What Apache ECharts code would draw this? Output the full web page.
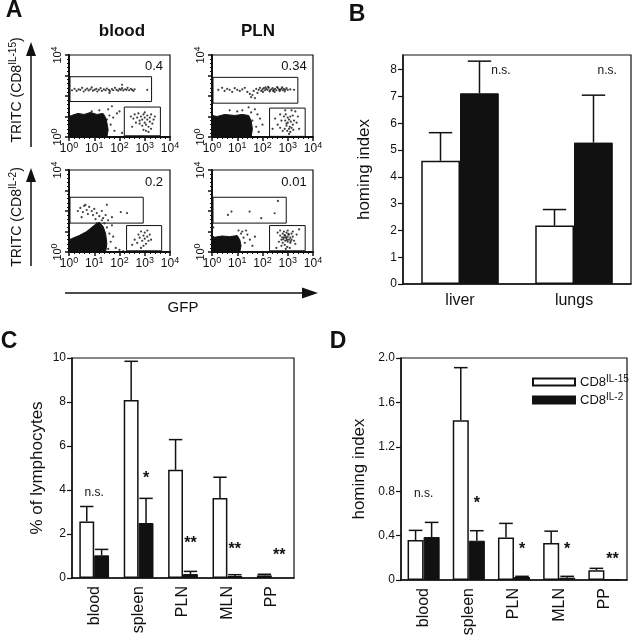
<!DOCTYPE html>
<html><head><meta charset="utf-8">
<script src="https://cdn.jsdelivr.net/npm/echarts@6/dist/echarts.min.js"></script>
<style>html,body{margin:0;padding:0;background:#fff}#c{width:632px;height:639px}</style>
</head><body><div id="c"></div>
<script>
// ================= DATA =================
// Panel A (flow cytometry, values in log10 decades)
const A_COLUMNS = ['blood', 'PLN'];
const A_ROWS = ['IL-15', 'IL-2'];
const A_PERCENT = ['0.4', '0.34', '0.2', '0.01'];
const A_DECADES = [0, 1, 2, 3, 4];
const A_GATE_UPPER = [[0.04,1.73,3.27,2.94],[0.04,1.65,3.4,2.91],[0.04,1.41,2.94,2.67],[0.04,1.41,2.94,2.67]];
const A_GATE_LOWER = [[2.19,0.06,3.62,1.46],[2.28,0.03,3.69,1.41],[2.28,0.06,3.67,1.29],[2.28,0.06,3.69,1.29]];
const A_BLOB_TL = [[0,0],[1.5,0],[1.55,0.35],[1.5,0.7],[1.45,0.95],[1.35,1.15],[1.1,1.1],[0.85,1.2],[0.6,1.1],[0.35,1.15],[0.1,1.05],[0,1.0]];
const A_BLOB_TR = [[0,0],[1.55,0],[1.6,0.4],[1.55,0.8],[1.45,1.05],[1.2,1.1],[0.9,1.05],[0.5,1.1],[0.2,1.0],[0,1.05]];
const A_BLOB_BL = [[0,0],[1.45,0],[1.5,0.4],[1.45,0.9],[1.35,1.25],[1.2,1.45],[1.0,1.3],[0.7,1.0],[0.4,0.8],[0.1,0.65],[0,0.6]];
const A_BLOB_BR = [[0,0],[1.1,0],[1.15,0.3],[1.1,0.6],[1.0,0.8],[0.7,0.75],[0.4,0.78],[0.1,0.72],[0,0.8]];
const A_DOTS_TL = [[0.12,2.28],[0.22,2.35],[0.3,2.25],[0.38,2.32],[0.45,2.3],[0.52,2.4],[0.58,2.22],[0.65,2.3],[0.72,2.36],[0.78,2.27],[0.85,2.33],[0.9,2.42],[0.95,2.26],[1.02,2.3],[1.08,2.35],[1.12,2.22],[1.18,2.3],[1.25,2.38],[1.3,2.25],[1.38,2.32],[1.45,2.28],[1.5,2.36],[1.58,2.3],[1.62,2.24],[1.7,2.34],[1.75,2.28],[1.82,2.4],[1.88,2.3],[1.95,2.26],[2.0,2.35],[2.05,2.3],[2.1,2.38],[2.15,2.27],[2.22,2.33],[2.28,2.3],[2.32,2.4],[2.38,2.28],[2.45,2.35],[2.5,2.3],[2.55,2.25],[2.6,2.33],[2.1,2.55],[1.6,2.15],[3.1,2.3],
 [1.6,1.05],[1.75,0.95],[1.9,1.15],[2.0,1.25],[1.55,1.35],[1.2,1.3],[0.9,1.25],[1.65,0.6],[1.8,0.3],[1.5,0.85],[2.1,0.2],[1.7,1.5],
 [2.45,1.0],[2.55,0.9],[2.6,1.1],[2.7,0.95],[2.75,1.15],[2.8,0.8],[2.85,1.0],[2.9,0.85],[2.95,1.1],[3.0,0.7],[3.0,0.95],[3.05,0.6],[3.1,0.85],[3.1,1.05],[3.15,0.5],[3.2,0.75],[3.2,0.95],[3.25,0.4],[3.3,0.65],[3.35,0.85],[2.9,0.55],[2.95,0.35],[3.05,0.3],[3.15,0.25],[2.8,0.65],[3.4,1.0],[2.65,0.7],[3.0,1.2],[2.5,0.5],[3.25,1.1]];
const A_DOTS_TR = [[0.25,2.3],[0.4,2.4],[0.5,2.25],[0.6,2.35],[0.7,2.3],[0.8,2.2],[0.9,2.38],[1.0,2.3],[1.1,2.25],[1.2,2.32],[1.3,2.4],[1.4,2.2],[1.5,2.1],[1.55,1.95],[1.6,2.05],[1.7,1.9],[1.65,2.25],[1.75,2.35],[1.8,2.15],[1.85,2.3],[1.9,2.4],[1.95,2.25],[2.0,2.32],[2.05,2.38],[2.1,2.28],[2.15,2.35],[2.2,2.3],[2.25,2.4],[2.3,2.27],[2.35,2.33],[2.4,2.38],[2.45,2.3],[2.5,2.35],[2.55,2.28],[2.6,2.4],[2.65,2.32],[2.7,2.3],[2.75,2.36],[2.8,2.28],[2.85,2.34],[2.9,2.3],[2.95,2.38],[3.0,2.3],[3.1,2.32],[3.25,2.3],
 [2.12,2.42],[2.28,2.22],[2.42,2.25],[2.58,2.44],[2.68,2.24],[2.78,2.42],[2.88,2.22],[2.02,2.2],[2.22,2.45],[2.48,2.2],
 [1.55,1.2],[1.7,1.35],[1.8,1.1],[1.6,0.8],[1.75,0.5],[1.9,0.9],[1.45,1.45],[1.2,1.3],[1.0,1.25],[0.7,1.3],[1.85,0.25],[2.0,0.6],
 [2.5,0.9],[2.6,0.6],[2.7,1.1],[2.75,0.8],[2.8,0.3],[3.35,0.7],[3.4,1.0],[3.3,1.25],[2.9,1.3],[3.05,0.15],[2.4,0.4],[3.45,0.4],[2.7,0.45],[3.15,1.3],
 [2.88,0.4],[2.95,0.55],[3.0,0.7],[3.05,0.85],[3.1,1.0],[2.92,1.1],[3.2,0.6],[3.15,0.45],[3.25,0.8],[2.98,0.3],[3.08,0.5],[2.9,0.8],[3.0,0.95],[3.12,0.75],[3.2,1.05],[2.95,0.65],[3.05,0.4],[2.85,1.0],[3.22,0.35],[3.1,0.25]];
const A_DOTS_BL = [[0.35,2.0],[0.45,2.15],[0.55,1.95],[0.6,2.25],[0.7,2.05],[0.75,1.85],[0.8,2.2],[0.9,2.0],[0.95,1.8],[1.0,2.1],[1.1,1.9],[1.2,1.75],[1.3,2.0],[1.35,1.65],[1.45,1.8],[1.5,2.3],[1.55,1.55],[1.7,1.7],[2.3,1.9],[0.5,1.7],[0.65,2.3],[1.05,1.6],[2.05,1.95],
 [1.5,1.2],[1.6,0.9],[1.65,0.5],[1.7,1.3],[1.3,1.55],[1.55,0.15],[1.85,0.2],[2.0,0.1],[1.4,1.4],[1.75,0.75],[2.15,0.05],[1.1,1.4],
 [2.6,0.6],[2.7,0.45],[2.75,0.85],[2.8,0.7],[2.85,1.0],[2.9,0.55],[2.95,0.8],[3.0,0.65],[3.0,0.95],[3.05,0.4],[3.1,0.75],[3.1,1.05],[3.15,0.55],[3.2,0.85],[2.5,0.35],[3.25,0.6],[2.95,0.3],[2.85,0.2]];
const A_DOTS_BR = [[0.63,1.81],[0.77,1.97],[1.49,1.97],[1.95,1.65],[2.48,1.89],[2.61,2.49],
 [1.15,0.9],[1.25,0.7],[1.3,0.45],[1.4,0.85],[1.5,0.6],[1.6,0.3],[1.2,1.0],[1.05,1.05],[1.35,1.05],[0.05,1.2],[1.7,0.75],
 [2.65,0.5],[2.7,0.8],[2.75,0.6],[2.8,0.9],[2.8,0.45],[2.85,0.7],[2.85,1.0],[2.9,0.55],[2.9,0.8],[2.95,0.65],[2.95,0.95],[3.0,0.5],[3.0,0.75],[3.0,1.05],[3.05,0.6],[3.05,0.85],[3.1,0.7],[3.1,0.45],[3.15,0.9],[3.15,0.6],[3.2,0.75],[3.25,0.55],[2.88,0.35],[2.98,0.25],[3.08,0.2],[2.92,0.15],[2.75,0.3],[3.35,0.85],[2.6,0.95],[2.7,1.05],[3.2,1.0],[2.82,0.62],[2.93,0.72],[3.02,0.88],[2.87,0.82],[2.97,0.58],[3.12,0.52],[2.78,0.72],[3.3,0.4],[2.55,0.2],[3.45,1.1]];

// Panel B
const B_CATS = ['liver', 'lungs'];
const B_IL15 = [4.6, 2.18];
const B_IL15_ERR = [5.65, 2.78];
const B_IL2 = [7.12, 5.28];
const B_IL2_ERR = [8.32, 7.05];
const B_TICKS = [0, 1, 2, 3, 4, 5, 6, 7, 8];
const B_MARK_TEXT = ['n.s.', 'n.s.'];
const B_MARK_Y = [7.96, 7.96];

// Panels C and D
const ORGANS = ['blood', 'spleen', 'PLN', 'MLN', 'PP'];
const C_IL15 = [2.57, 8.09, 4.92, 3.64, 0.12];
const C_IL15_ERR = [3.25, 9.85, 6.29, 4.58, 0.17];
const C_IL2 = [1.03, 2.5, 0.18, 0.09, null];
const C_IL2_ERR = [1.3, 3.62, 0.3, 0.15, null];
const C_TICKS = [0, 2, 4, 6, 8, 10];
const C_MARK_TEXT = ['n.s.', '*', '**', '**', '**'];
const C_MARK_Y = [3.9, 4.5, 1.56, 1.29, 1.01];
const C_MARK_SLOT = [0, 1, 1, 1, 1];

const D_IL15 = [0.36, 1.44, 0.384, 0.333, 0.087];
const D_IL15_ERR = [0.447, 1.913, 0.51, 0.44, 0.105];
const D_IL2 = [0.387, 0.354, 0.027, 0.021, 0.006];
const D_IL2_ERR = [0.519, 0.444, 0.033, 0.033, null];
const D_TICKS = [0, 0.4, 0.8, 1.2, 1.6, 2.0];
const D_MARK_TEXT = ['n.s.', '*', '*', '*', '**'];
const D_MARK_Y = [0.78, 0.69, 0.27, 0.27, 0.18];
const D_MARK_SLOT = [0, 1, 1, 1, 1];

const SERIES_NAMES = ['CD8IL-15', 'CD8IL-2'];

// ================= RENDER =================
const INK = '#111';
const FONT = '"Liberation Sans", Arial, Helvetica, sans-serif';
const chart = echarts.init(document.getElementById('c'), null, {renderer: 'canvas'});

const grids = [
  {left: 69, top: 55, width: 101, height: 82},
  {left: 212, top: 55, width: 101, height: 82},
  {left: 69, top: 170, width: 101, height: 82},
  {left: 212, top: 170, width: 101, height: 82},
  {left: 403, top: 55, width: 228, height: 229},
  {left: 72, top: 358, width: 222, height: 220},
  {left: 401, top: 358, width: 226, height: 222}
].map(g => Object.assign({show: true, borderColor: INK, borderWidth: 1.2, backgroundColor: 'transparent'}, g));

const supRich = {s: {fontSize: 9, fontFamily: FONT, color: INK, padding: [0, 0, 7, 0]}};

const xAxes = [], yAxes = [], series = [];

// ----- Panel A -----
for (let i = 0; i < 4; i++) {
  xAxes.push({gridIndex: i, type: 'value', min: 0, max: 4, interval: 1,
    axisLine: {show: true, onZero: false, lineStyle: {color: INK, width: 2}},
    axisTick: {show: true, length: 4, lineStyle: {color: INK, width: 1.5}},
    minorTick: {show: true, splitNumber: 5, length: 2, lineStyle: {color: INK, width: 1}},
    splitLine: {show: false},
    axisLabel: {color: INK, fontFamily: FONT, fontSize: 12, margin: 4,
      formatter: v => '10{s|' + v + '}', rich: supRich}});
  yAxes.push({gridIndex: i, type: 'value', min: 0, max: 4, interval: 1,
    axisLine: {show: true, onZero: false, lineStyle: {color: INK, width: 2}},
    axisTick: {show: true, length: 4, lineStyle: {color: INK, width: 1.5}},
    minorTick: {show: true, splitNumber: 5, length: 2, lineStyle: {color: INK, width: 1}},
    splitLine: {show: false},
    axisLabel: {color: INK, fontFamily: FONT, fontSize: 11, margin: 3, rotate: 90,
      formatter: v => (v === A_DECADES[0] || v === A_DECADES[4]) ? '10{s|' + v + '}' : '', rich: supRich}});
}
const blobs = [A_BLOB_TL, A_BLOB_TR, A_BLOB_BL, A_BLOB_BR];
const dots = [A_DOTS_TL, A_DOTS_TR, A_DOTS_BL, A_DOTS_BR];
for (let i = 0; i < 4; i++) {
  const poly = blobs[i];
  series.push({type: 'custom', xAxisIndex: i, yAxisIndex: i, data: poly, encode: {x: 0, y: 1}, silent: true, z: 3,
    renderItem: (params, api) => {
      if (params.dataIndex !== 0) return null;
      return {type: 'polygon', shape: {points: poly.map(p => api.coord(p))}, style: {fill: INK, stroke: INK, lineWidth: 1}};
    }});
  series.push({type: 'scatter', xAxisIndex: i, yAxisIndex: i, data: dots[i], symbolSize: 2.2, silent: true, z: 3,
    itemStyle: {color: INK}});
  series.push({type: 'custom', xAxisIndex: i, yAxisIndex: i, data: [A_GATE_UPPER[i], A_GATE_LOWER[i]],
    encode: {x: [0, 2], y: [1, 3]}, silent: true, z: 4,
    renderItem: (params, api) => {
      const p0 = api.coord([api.value(0), api.value(3)]);
      const p1 = api.coord([api.value(2), api.value(1)]);
      return {type: 'rect', shape: {x: p0[0], y: p0[1], width: p1[0] - p0[0], height: p1[1] - p0[1]},
        style: {fill: 'none', stroke: INK, lineWidth: 1}};
    }});
}

// ----- Bar panels -----
function barPanel(gi, cats, ticks, max, il15, il15e, il2, il2e, gap, capFrac, yName, nameGap, labelOpt, marks) {
  xAxes.push(Object.assign({gridIndex: gi, type: 'category', data: cats,
    axisLine: {show: true, lineStyle: {color: INK, width: 1.5}},
    axisTick: {show: false}, splitLine: {show: false}}, {axisLabel: labelOpt}));
  yAxes.push({gridIndex: gi, type: 'value', min: 0, max: max,
    axisLine: {show: true, lineStyle: {color: INK, width: 1.5}},
    axisTick: {show: true, length: 5, customValues: ticks, lineStyle: {color: INK, width: 1.2}},
    splitLine: {show: false},
    axisLabel: {customValues: ticks, color: INK, fontFamily: FONT, fontSize: 12, margin: 6,
      formatter: v => (max < 3 ? (v === 0 ? '0' : v.toFixed(1)) : String(v))},
    name: yName, nameLocation: 'middle', nameGap: nameGap, nameRotate: 90,
    nameTextStyle: {color: INK, fontFamily: FONT, fontSize: 17}});
  const ax = xAxes.length - 1;
  const barGapStr = Math.round(gap * 100) + '%';
  series.push({type: 'bar', name: SERIES_NAMES[0], xAxisIndex: ax, yAxisIndex: ax, data: il15,
    barGap: '0%', barCategoryGap: barGapStr, z: 2,
    itemStyle: {color: '#fff', borderColor: INK, borderWidth: 1.5}});
  series.push({type: 'bar', name: SERIES_NAMES[1], xAxisIndex: ax, yAxisIndex: ax, data: il2,
    barGap: '0%', barCategoryGap: barGapStr, z: 2,
    itemStyle: {color: INK, borderColor: INK, borderWidth: 1}});
  const errData = [];
  cats.forEach((c, k) => {
    if (il15e[k] != null) errData.push([k, il15[k], il15e[k], -1]);
    if (il2e[k] != null) errData.push([k, il2[k], il2e[k], 1]);
  });
  series.push({type: 'custom', xAxisIndex: ax, yAxisIndex: ax, data: errData, encode: {x: 0, y: [1, 2]}, z: 5, silent: true,
    renderItem: (params, api) => {
      const k = api.value(0), v = api.value(1), e = api.value(2), side = api.value(3);
      const band = api.size([1, 0])[0];
      const bw = band * (1 - gap) / 2;
      const cx = api.coord([k, 0])[0] + side * bw / 2;
      const yv = api.coord([k, v])[1], ye = api.coord([k, e])[1];
      const cap = bw * capFrac / 2;
      return {type: 'group', children: [
        {type: 'line', shape: {x1: cx, y1: yv, x2: cx, y2: ye}, style: {stroke: INK, lineWidth: 1.5}},
        {type: 'line', shape: {x1: cx - cap, y1: ye, x2: cx + cap, y2: ye}, style: {stroke: INK, lineWidth: 1.5}}
      ]};
    }});
  // annotations
  series.push({type: 'custom', xAxisIndex: ax, yAxisIndex: ax, data: marks.y.map((y, k) => [k, y, marks.slot[k]]),
    encode: {x: 0, y: 1}, z: 6, silent: true,
    renderItem: (params, api) => {
      const k = api.value(0), y = api.value(1), slot = api.value(2);
      const band = api.size([1, 0])[0];
      const bw = band * (1 - gap) / 2;
      const p = api.coord([k, y]);
      const txt = marks.text[params.dataIndex];
      const star = txt.indexOf('*') >= 0;
      return {type: 'text', x: p[0] + slot * bw / 2, y: p[1],
        style: {text: txt, textAlign: 'center', textVerticalAlign: 'middle', fill: INK,
          font: (star ? 'bold 16px ' : '12px ') + FONT}};
    }});
}

const catLabelRot = {color: INK, fontFamily: FONT, fontSize: 16, rotate: 90, margin: 8, interval: 0};
barPanel(4, B_CATS, B_TICKS, 8.55, B_IL15, B_IL15_ERR, B_IL2, B_IL2_ERR, 0.316, 0.6,
  'homing index', 30, {color: INK, fontFamily: FONT, fontSize: 16, margin: 9},
  {text: B_MARK_TEXT, y: B_MARK_Y, slot: [2.1, 1.7]});
barPanel(5, ORGANS, C_TICKS, 10, C_IL15, C_IL15_ERR, C_IL2, C_IL2_ERR, 0.33, 0.9,
  '% of lymphocytes', 26, catLabelRot, {text: C_MARK_TEXT, y: C_MARK_Y, slot: C_MARK_SLOT});
barPanel(6, ORGANS, D_TICKS, 2.0, D_IL15, D_IL15_ERR, D_IL2, D_IL2_ERR, 0.29, 0.85,
  'homing index', 33, catLabelRot, {text: D_MARK_TEXT, y: D_MARK_Y, slot: D_MARK_SLOT});

// ----- Decorations -----
const graphic = [];
function txt(x, y, text, font, extra) {
  graphic.push(Object.assign({type: 'text', x: x, y: y, silent: true,
    style: Object.assign({text: text, font: font, fill: INK, textAlign: 'center', textVerticalAlign: 'middle'}, extra || {})}));
}
txt(14, 11, 'A', 'bold 23px ' + FONT);
txt(357, 15, 'B', 'bold 23px ' + FONT);
txt(9, 342, 'C', 'bold 23px ' + FONT);
txt(338, 342, 'D', 'bold 23px ' + FONT);
txt(122, 31, A_COLUMNS[0], 'bold 17px ' + FONT);
txt(258, 31, A_COLUMNS[1], 'bold 17px ' + FONT);
txt(154, 66, A_PERCENT[0], '13px ' + FONT);
txt(294, 66, A_PERCENT[1], '13px ' + FONT);
txt(154, 182, A_PERCENT[2], '13px ' + FONT);
txt(294, 182, A_PERCENT[3], '13px ' + FONT);
txt(183, 308, 'GFP', '15px ' + FONT);
// rotated TRITC labels
[[17, 90, A_ROWS[0]], [17, 217, A_ROWS[1]]].forEach(r => {
  graphic.push({type: 'text', x: r[0], y: r[1], rotation: Math.PI / 2, silent: true,
    style: {text: 'TRITC (CD8{s|' + r[2] + '})', font: '14px ' + FONT, fill: INK, textAlign: 'center', textVerticalAlign: 'middle',
      rich: {s: {fontSize: 10, fontFamily: FONT, fill: INK, padding: [0, 0, 7, 0]}}}});
});
// arrows
function vArrow(x, yTip, yBase) {
  graphic.push({type: 'line', silent: true, shape: {x1: x, y1: yBase, x2: x, y2: yTip + 10}, style: {stroke: INK, lineWidth: 1.5}});
  graphic.push({type: 'polygon', silent: true, shape: {points: [[x, yTip], [x - 5, yTip + 14], [x + 5, yTip + 14]]}, style: {fill: INK}});
}
vArrow(31, 42, 147);
vArrow(31, 168, 266);
graphic.push({type: 'line', silent: true, shape: {x1: 65, y1: 293, x2: 307, y2: 293}, style: {stroke: INK, lineWidth: 1.5}});
graphic.push({type: 'polygon', silent: true, shape: {points: [[318, 293], [302, 287.5], [302, 298.5]]}, style: {fill: INK}});

chart.setOption({
  animation: false,
  backgroundColor: '#fff',
  textStyle: {fontFamily: FONT, color: INK},
  grid: grids,
  xAxis: xAxes,
  yAxis: yAxes,
  series: series,
  graphic: graphic,
  legend: {data: SERIES_NAMES, orient: 'vertical', left: 532, top: 374, itemWidth: 42, itemHeight: 7, itemGap: 2, padding: 0,
    selectedMode: false, icon: 'rect',
    formatter: n => 'CD8{s|' + n.slice(3) + '}',
    textStyle: {color: INK, fontFamily: FONT, fontSize: 13, lineHeight: 16,
      rich: {s: {fontSize: 10, fontFamily: FONT, color: INK, lineHeight: 16, padding: [0, 0, 5, 0]}}}}
});
</script></body></html>
